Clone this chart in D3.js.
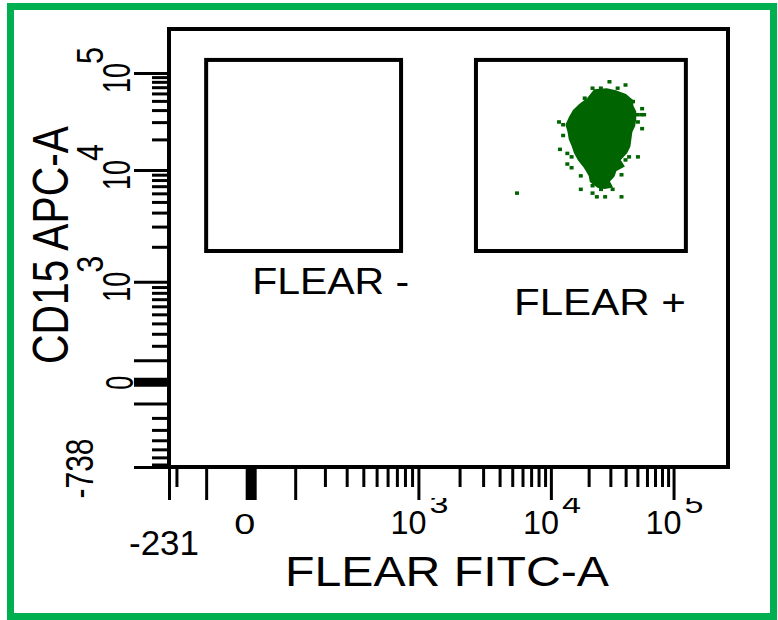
<!DOCTYPE html>
<html>
<head>
<meta charset="utf-8">
<script src="https://cdn.jsdelivr.net/npm/d3@7"></script>
<style>
  html, body { margin: 0; padding: 0; background: #fff; }
  svg { display: block; font-family: "Liberation Sans", Arial, sans-serif; }
</style>
</head>
<body>
<div id="chart"></div>
<script>
// axis ranges (biexponential display, FACS style)
const xMin = -231, xMax = 290000;
const yMin = -738, yMax = 310000;

const xMajorTicks = [-231, -100, 0, 100, 1000, 10000, 100000];
const xMinorTicks = [-200, 200, 300, 400, 500, 600, 700, 800, 900,
                     2000, 3000, 4000, 5000, 6000, 7000, 8000, 9000,
                     20000, 30000, 40000, 50000, 60000, 70000, 80000, 90000];
const yMajorTicks = [-738, -100, 0, 100, 1000, 10000, 100000];
const yMinorTicks = [-700, -600, -500, -400, -300, -200,
                     200, 300, 400, 500, 600, 700, 800, 900,
                     2000, 3000, 4000, 5000, 6000, 7000, 8000, 9000,
                     20000, 30000, 40000, 50000, 60000, 70000, 80000, 90000];

const decadeValues = [1000, 10000, 100000];
const decadeExps   = ["3", "4", "5"];

// gates
const gateNames   = ["FLEAR -", "FLEAR +"];
const gateFitcLo  = [-100, 2650];
const gateFitcHi  = [750, 127000];
const gateApcLo   = [1840, 1840];
const gateApcHi   = [139000, 139000];

// dense core of the population (outline)
const clusterFitc = [22400, 19700, 17000, 15200, 14100, 13300, 13800, 14100, 14900, 15500, 16700, 18300,
                     19300, 20400, 20800, 23700, 27000, 30700, 29100, 31900, 33100, 38400, 35700, 40600,
                     43000, 43800, 44600, 47100, 48000, 48000, 45400, 45400, 39900, 33100, 28000];
const clusterApc  = [65100, 52500, 45500, 39400, 33400, 28200, 23900, 20200, 17100, 14800, 12500, 10900,
                     9880, 8770, 7780, 6910, 6750, 6910, 7780, 8770, 9880, 10900, 12500, 14800,
                     17100, 20200, 23900, 27600, 32600, 38500, 44400, 50100, 57800, 63500, 66600];

// single events around the core
const eventFitc = [29500, 39900, 21500, 25100, 34400, 18600, 46000, 54700, 49800, 53700, 56800, 11600,
                   12500, 50500, 54700, 12500, 11800, 13500, 14600, 50500, 42700, 39900, 13500, 14600,
                   17300, 37000, 17300, 21500, 25200, 31300, 23300, 27200, 37000, 21500, 28900, 5440];
const eventApc  = [80100, 73900, 68300, 68300, 68300, 53400, 49200, 41400, 35800, 35800, 35800, 30100,
                   28200, 30100, 25700, 21900, 15900, 14500, 13400, 13400, 13400, 12500, 11400, 10500,
                   8770, 8980, 6540, 6030, 6540, 6540, 5570, 5570, 5570, 7070, 7070, 6030];

const dotColor = "#006400";

///////////
/// Box ///
///////////

const width = 778, height = 620;
const plot = {left: 169, right: 728, top: 29, bottom: 467};

let svg = d3.select("#chart")
    .append("svg")
    .attr("width", width)
    .attr("height", height);

svg.append("rect")
    .attr("x", 10.5).attr("y", 6.5)
    .attr("width", 763).attr("height", 610)
    .attr("fill", "#fff")
    .attr("stroke", "#00b050")
    .attr("stroke-width", 7);

//////////////
/// Scales ///
//////////////

function biex(v, s, q) {
    return Math.sign(v) * Math.pow(Math.asinh(Math.abs(v) / s), q);
}
const tx = v => biex(v, 200, 0.845);
const ty = v => biex(v, 600, 0.747);

const xLin = d3.scaleLinear().domain([tx(xMin), tx(xMax)]).range([plot.left, plot.right]);
const yLin = d3.scaleLinear().domain([ty(yMin), ty(yMax)]).range([plot.bottom, plot.top]);
const x = v => xLin(tx(v));
const y = v => yLin(ty(v));

////////////
/// Axes ///
////////////

function styleAxis(g, w) {
    g.select(".domain").remove();
    g.selectAll("line").attr("stroke", "#000").attr("stroke-width", w);
}

svg.append("g")
    .attr("transform", "translate(0," + plot.bottom + ")")
    .call(d3.axisBottom(xLin).tickValues(xMinorTicks.map(tx)).tickSize(20).tickFormat(""))
    .call(g => styleAxis(g, 3));

svg.append("g")
    .attr("transform", "translate(0," + plot.bottom + ")")
    .call(d3.axisBottom(xLin).tickValues(xMajorTicks.map(tx)).tickSize(33).tickFormat(""))
    .call(g => styleAxis(g, 3))
    .selectAll(".tick line")
    .filter(d => d === 0)
    .attr("stroke-width", 11);

svg.append("g")
    .attr("transform", "translate(" + plot.left + ",0)")
    .call(d3.axisLeft(yLin).tickValues(yMinorTicks.map(ty)).tickSize(17).tickFormat(""))
    .call(g => styleAxis(g, 3));

svg.append("g")
    .attr("transform", "translate(" + plot.left + ",0)")
    .call(d3.axisLeft(yLin).tickValues(yMajorTicks.map(ty)).tickSize(35).tickFormat(""))
    .call(g => styleAxis(g, 3))
    .selectAll(".tick line")
    .filter(d => d === 0)
    .attr("stroke-width", 9);

// plot frame
svg.append("rect")
    .attr("x", plot.left).attr("y", plot.top)
    .attr("width", plot.right - plot.left)
    .attr("height", plot.bottom - plot.top)
    .attr("fill", "none")
    .attr("stroke", "#000")
    .attr("stroke-width", 4);

//////////////
/// Labels ///
//////////////

function label(parent, str, tf, size, len, anchor) {
    return parent.append("text")
        .attr("transform", tf)
        .attr("text-anchor", anchor || "middle")
        .attr("font-size", size)
        .attr("textLength", len)
        .attr("lengthAdjust", "spacingAndGlyphs")
        .attr("fill", "#000")
        .text(str);
}

// y tick labels (rotated)
decadeValues.forEach((v, i) => {
    label(svg, "10", "translate(130," + (y(v) + 5) + ") rotate(-90)", 39, 30);
    label(svg, decadeExps[i], "translate(103," + (y(v) - 9) + ") rotate(-90)", 36, 17, "start");
});
label(svg, "0", "translate(133," + (y(0) + 1) + ") rotate(-90)", 38, 14);
label(svg, "-738", "translate(93," + (y(yMin) + 1.5) + ") rotate(-90)", 39, 60);

// x tick labels; exponents are cut off at the top as in the original
svg.append("defs").append("clipPath").attr("id", "supclip")
    .append("rect").attr("x", 0).attr("y", 498).attr("width", width).attr("height", 60);
let supGroup = svg.append("g").attr("clip-path", "url(#supclip)");

decadeValues.forEach((v, i) => {
    label(svg, "10", "translate(" + (x(v) - 10) + ",534)", 33.5, 36);
    label(supGroup, decadeExps[i], "translate(" + (x(v) + 11) + ",513)", 25, 19, "start");
});
label(svg, "0", "translate(" + (x(0) - 6) + ",534)", 29, 21);
label(svg, "-231", "translate(" + (x(xMin) - 5) + ",555)", 35, 70);

// axis titles
label(svg, "FLEAR FITC-A", "translate(447,586)", 43, 324);
label(svg, "CD15 APC-A", "translate(68,245) rotate(-90)", 50, 238);

/////////////
/// Gates ///
/////////////

const gateLabelOffset = [[46, 43], [38, 64]];
const gateLabelSize   = [36, 37.5];
const gateLabelLen    = [157, 172];

gateNames.forEach((name, i) => {
    let x0 = x(gateFitcLo[i]), x1 = x(gateFitcHi[i]);
    let y0 = y(gateApcHi[i]), y1 = y(gateApcLo[i]);
    svg.append("rect")
        .attr("x", x0).attr("y", y0)
        .attr("width", x1 - x0).attr("height", y1 - y0)
        .attr("fill", "none")
        .attr("stroke", "#000")
        .attr("stroke-width", 4);
    label(svg, name, "translate(" + (x0 + gateLabelOffset[i][0]) + "," + (y1 + gateLabelOffset[i][1]) + ")",
        gateLabelSize[i], gateLabelLen[i], "start");
});

//////////////
/// Events ///
//////////////

const core = clusterFitc.map((v, i) => [v, clusterApc[i]]);
svg.append("path")
    .datum(core)
    .attr("fill", dotColor)
    .attr("stroke", dotColor)
    .attr("stroke-width", 2)
    .attr("d", d3.line().x(d => x(d[0])).y(d => y(d[1])).curve(d3.curveLinearClosed));

const events = eventFitc.map((v, i) => ({fitc: v, apc: eventApc[i]}));
svg.append("g")
    .selectAll("rect")
    .data(events)
    .enter()
    .append("rect")
    .attr("x", d => x(d.fitc) - 2)
    .attr("y", d => y(d.apc) - 1.75)
    .attr("width", 4)
    .attr("height", 3.5)
    .attr("fill", dotColor);
</script>
</body>
</html>
